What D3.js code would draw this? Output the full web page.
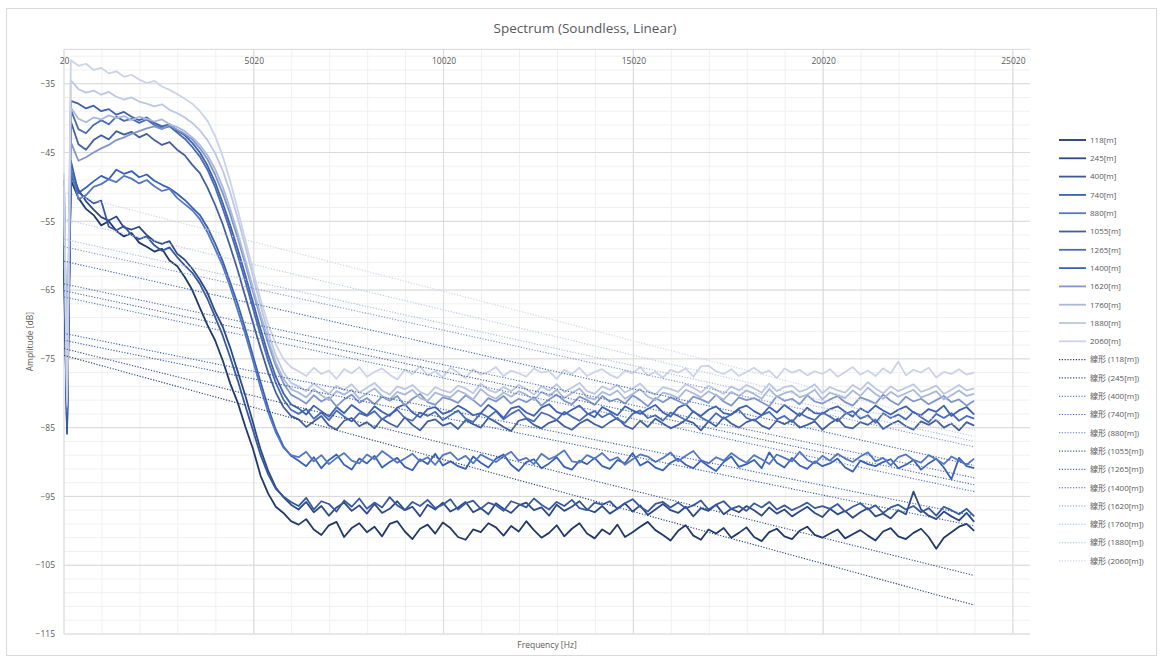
<!DOCTYPE html>
<html>
<head>
<meta charset="utf-8">
<script src="https://cdn.jsdelivr.net/npm/d3@7"></script>
<style>
  body { margin: 0; background: #fff; }
  text { font-family: "Open Sans", "Noto Sans CJK JP", sans-serif; fill: #595959; }
</style>
</head>
<body>
<div id="chart"></div>
<script>
// frequency bins [Hz]
const freqs = [20, 100].concat(d3.range(200, 24001, 200))

const seriesNames = ['118[m]', '245[m]', '400[m]', '740[m]', '880[m]', '1055[m]', '1265[m]', '1400[m]', '1620[m]', '1760[m]', '1880[m]', '2060[m]']

const s118 = [-62, -85.5,
  -49.0, -51.6, -53.2, -54.1, -55.6, -55.0, -56.4, -57.2, -56.7, -58.1,
  -58.7, -59.4, -59.0, -60.7, -61.5, -63.1, -65.0, -67.6, -70.1, -72.3,
  -75.2, -78.6, -81.4, -84.9, -88.1, -92.0, -94.6, -96.5, -97.4, -98.6,
  -99.1, -98.3, -99.8, -100.6, -99.2, -98.7, -100.9, -99.6, -98.9, -100.2,
  -99.4, -100.8, -99.0, -98.6, -100.1, -101.2, -99.7, -99.1, -100.4, -98.8,
  -99.6, -100.9, -101.3, -99.8, -100.2, -98.9, -99.5, -100.7, -99.3, -100.1,
  -98.6, -99.9, -101.0, -100.3, -99.2, -100.8, -99.7, -98.9, -100.4, -101.1,
  -99.8, -100.5, -99.1, -100.9, -100.2, -99.4, -98.7, -99.9, -100.6, -101.4,
  -100.0, -99.2, -100.7, -101.3, -99.8, -100.4, -99.6, -101.0, -100.3, -99.5,
  -100.9, -101.5, -100.2, -99.7, -100.8, -101.2, -100.0, -99.4, -100.6, -101.0,
  -100.4, -99.8, -101.1, -100.5, -99.9, -100.7, -101.4, -100.1, -99.6, -100.8,
  -101.2, -100.3, -99.7, -100.9, -102.6, -101.0, -100.2, -99.4, -99.0, -100.0]

const s245 = [-58.5, -84.8,
  -47.6, -50.4, -52.1, -53.3, -54.4, -54.9, -54.3, -55.9, -56.2, -55.8,
  -57.0, -57.9, -58.3, -57.9, -59.7, -60.6, -61.9, -63.5, -65.4, -68.1,
  -70.3, -73.4, -76.9, -80.4, -84.3, -88.2, -91.3, -93.7, -95.1, -96.2,
  -96.9, -95.8, -97.3, -96.4, -97.8, -96.6, -95.9, -97.1, -96.3, -97.5,
  -96.1, -97.4, -96.8, -95.7, -97.0, -96.5, -97.9, -96.2, -96.9, -95.9,
  -97.2, -96.6, -95.8, -97.3, -96.7, -97.6, -96.0, -96.8, -97.4, -96.3,
  -95.9, -97.0, -96.6, -97.8, -96.2, -97.1, -96.5, -95.7, -96.9, -97.3,
  -96.4, -97.5, -96.8, -96.0, -97.2, -96.3, -97.7, -96.9, -96.1, -97.0,
  -97.4, -96.5, -97.9, -96.7, -97.1, -96.2, -97.6, -96.8, -97.3, -96.4,
  -97.0, -97.8, -96.6, -97.5, -96.9, -97.9, -97.2, -96.5, -97.4, -98.0,
  -96.8, -97.6, -97.1, -98.1, -97.3, -96.7, -97.9, -97.5, -98.2, -97.0,
  -97.6, -94.3, -96.9, -97.8, -98.3, -97.2, -97.9, -98.5, -97.4, -98.7]

const s400 = [-60.2, -85.9,
  -48.3, -50.8, -51.6, -52.4, -52.0, -55.8, -56.3, -55.7, -57.0, -57.6,
  -57.2, -58.5, -59.3, -58.8, -60.2, -61.4, -62.5, -64.1, -66.3, -68.9,
  -71.6, -74.8, -78.2, -81.9, -85.4, -89.0, -91.8, -93.9, -95.0, -95.8,
  -96.4, -95.2, -96.9, -95.7, -96.1, -97.2, -95.6, -96.5, -95.3, -96.8,
  -95.9, -96.6, -95.1, -96.3, -97.0, -95.8, -96.4, -95.5, -96.7, -96.2,
  -95.4, -96.9, -96.0, -95.6, -96.8, -95.9, -96.3, -97.1, -95.7, -96.1,
  -96.6, -95.3, -96.2, -96.9, -95.8, -96.4, -95.5, -96.7, -97.0, -95.9,
  -96.2, -95.7, -96.8, -96.0, -95.4, -96.5, -97.2, -96.1, -95.8, -96.6,
  -95.9, -96.7, -96.3, -95.6, -96.9, -96.2, -95.7, -96.8, -96.4, -97.1,
  -96.0, -96.6, -95.8, -96.9, -96.3, -97.0, -96.5, -95.9, -96.7, -96.4,
  -96.8, -96.1, -97.2, -96.5, -96.0, -96.9, -96.3, -97.4, -96.6, -96.2,
  -96.9, -96.4, -97.3, -96.7, -97.8, -96.5, -97.0, -97.6, -96.8, -97.9]

const s740 = [-56.5, -83.2,
  -46.2, -50.9, -50.1, -49.2, -48.4, -48.9, -47.5, -48.1, -47.7, -48.6,
  -48.2, -49.1, -49.7, -50.2, -51.0, -51.9, -53.0, -54.1, -55.9, -58.2,
  -60.8, -63.9, -67.1, -70.7, -74.6, -78.4, -82.1, -85.3, -87.7, -89.1,
  -89.8, -90.6, -89.3, -90.9, -89.7, -88.9, -90.4, -91.1, -89.5, -90.2,
  -89.1, -90.8, -90.0, -89.4, -90.7, -91.2, -89.6, -90.3, -88.8, -90.5,
  -89.9, -90.6, -91.0, -89.2, -90.1, -90.8, -89.5, -88.9, -90.4, -91.3,
  -90.0, -89.6, -90.9, -90.2, -89.3, -90.7, -91.1, -89.8, -90.3, -89.4,
  -90.6, -91.0, -89.7, -90.2, -88.7, -90.5, -89.9, -90.8, -91.2, -90.1,
  -89.5, -90.4, -90.9, -89.8, -90.6, -91.3, -90.0, -89.2, -90.7, -90.3,
  -89.7, -90.9, -88.6, -90.1, -90.8, -89.4, -90.5, -91.0, -89.9, -90.6,
  -90.2, -89.5, -90.8, -91.4, -89.8, -90.3, -90.6, -90.0, -89.6, -90.9,
  -90.4, -89.7, -91.1, -90.2, -89.5, -90.8, -92.5, -89.4, -90.6, -90.9]

const s880 = [-54.0, -82.6,
  -47.3, -51.8, -51.2, -50.0, -49.6, -48.9, -49.3, -48.4, -48.8, -49.5,
  -49.0, -49.9, -50.6, -50.3, -51.6, -52.5, -53.4, -54.7, -56.6, -59.0,
  -61.5, -64.6, -68.0, -71.5, -75.3, -79.2, -82.8, -85.7, -87.9, -89.0,
  -89.3, -88.5, -89.9, -89.0, -90.3, -89.4, -88.7, -89.8, -90.2, -88.9,
  -89.6, -88.4, -89.2, -90.1, -89.5, -88.8, -89.9, -89.3, -90.4, -89.0,
  -88.6, -89.7, -89.1, -90.2, -88.9, -89.5, -90.0, -89.2, -88.5, -89.8,
  -89.4, -90.3, -88.8, -89.6, -89.1, -88.3, -89.9, -90.1, -89.0, -89.5,
  -88.7, -89.8, -89.3, -90.4, -89.6, -88.9, -89.2, -90.0, -89.4, -88.6,
  -89.9, -89.1, -88.4, -89.7, -90.2, -89.3, -89.8, -88.7, -89.5, -90.1,
  -89.0, -89.6, -90.3, -88.9, -89.4, -89.9, -88.5, -89.7, -90.2, -89.1,
  -89.8, -88.8, -89.5, -90.0, -89.2, -88.6, -89.9, -89.4, -90.5, -89.3,
  -88.9, -89.7, -90.1, -89.0, -89.6, -90.3, -89.2, -89.8, -90.4, -89.5]

const s1055 = [-52.0, -81.5,
  -40.5, -43.8, -44.6, -43.2, -42.5, -43.1, -41.9, -42.4, -42.0, -42.8,
  -42.3, -43.2, -43.9, -43.5, -44.6, -45.4, -46.8, -48.0, -50.1, -52.6,
  -55.4, -58.7, -62.2, -66.0, -69.8, -73.5, -77.0, -79.9, -82.0, -83.3,
  -83.8, -84.9, -84.1, -83.3, -84.7, -85.3, -84.0, -83.6, -84.8, -84.2,
  -85.1, -83.7, -84.4, -84.9, -83.5, -84.6, -85.4, -84.1, -83.8, -84.7,
  -84.3, -85.2, -83.9, -84.5, -85.0, -83.6, -84.2, -84.9, -85.5, -84.0,
  -83.7, -84.6, -85.1, -84.3, -83.9, -84.8, -85.3, -84.4, -83.8, -84.5,
  -85.0, -84.2, -83.6, -84.7, -85.2, -84.0, -84.9, -83.7, -84.4, -85.1,
  -84.6, -83.9, -84.3, -85.4, -84.1, -84.8, -83.5, -84.4, -85.0, -84.2,
  -83.8, -84.7, -85.2, -84.0, -84.5, -83.9, -85.0, -84.6, -84.1, -85.3,
  -84.4, -83.7, -84.9, -85.1, -84.2, -84.6, -83.8, -85.2, -84.5, -84.0,
  -84.8, -85.3, -84.1, -84.6, -83.9, -85.0, -84.4, -85.4, -84.2, -84.7]

const s1265 = [-50.5, -81.0,
  -38.8, -41.6, -42.2, -41.0, -40.3, -40.9, -39.8, -40.4, -40.1, -40.7,
  -40.2, -41.0, -41.5, -41.2, -42.1, -43.0, -44.2, -45.6, -47.5, -50.0,
  -53.1, -56.4, -60.0, -63.8, -67.7, -71.6, -75.3, -78.5, -80.9, -82.4,
  -83.0, -82.3, -83.7, -82.8, -83.9, -82.5, -83.4, -84.1, -82.9, -83.3,
  -82.6, -83.8, -83.1, -82.4, -83.6, -84.0, -82.8, -83.3, -82.7, -83.9,
  -83.2, -82.5, -83.7, -84.2, -82.9, -83.5, -82.6, -83.8, -83.0, -82.4,
  -83.6, -84.1, -82.8, -83.2, -83.9, -82.7, -83.4, -84.0, -83.1, -82.6,
  -83.5, -82.9, -83.8, -84.3, -83.0, -82.5, -83.6, -83.2, -84.0, -82.8,
  -83.3, -83.9, -82.6, -83.5, -84.1, -82.9, -83.7, -83.1, -82.4, -83.6,
  -84.0, -83.2, -82.7, -83.8, -83.3, -84.2, -82.9, -83.5, -83.9, -82.8,
  -83.4, -84.1, -83.0, -82.6, -83.7, -83.2, -84.3, -82.9, -83.6, -83.1,
  -83.8, -82.7, -83.5, -84.2, -83.0, -83.6, -82.9, -84.0, -83.3, -83.7]

const s1400 = [-49.0, -80.4,
  -37.5, -37.9, -38.6, -38.2, -39.0, -38.7, -39.5, -39.1, -39.8, -40.3,
  -39.9, -40.7, -41.2, -40.9, -41.8, -42.5, -43.6, -45.0, -46.9, -49.3,
  -52.3, -55.6, -59.1, -62.9, -66.8, -70.7, -74.4, -77.6, -80.0, -81.6,
  -82.2, -83.1, -81.8, -82.6, -83.4, -82.0, -82.9, -81.7, -82.5, -83.2,
  -81.9, -82.7, -83.3, -82.1, -81.6, -82.8, -83.5, -82.3, -82.0, -83.0,
  -82.6, -81.8, -82.4, -83.2, -82.9, -81.7, -82.5, -83.6, -82.2, -81.9,
  -82.8, -83.3, -82.1, -81.6, -82.7, -83.1, -82.4, -81.8, -82.9, -83.5,
  -82.0, -82.6, -83.2, -81.9, -82.5, -83.0, -82.3, -81.7, -82.8, -83.4,
  -82.1, -81.6, -82.7, -83.3, -82.4, -81.9, -82.9, -83.1, -82.2, -81.8,
  -82.6, -83.2, -82.0, -82.8, -81.7, -82.5, -83.3, -82.1, -82.9, -83.0,
  -82.3, -81.9, -82.7, -83.4, -82.2, -82.8, -81.8, -82.5, -83.1, -82.4,
  -81.9, -82.8, -83.2, -82.3, -82.7, -81.8, -83.3, -82.5, -82.0, -83.1]

const s1620 = [-53.0, -82.0,
  -43.5, -46.2, -45.7, -45.0, -44.4, -43.9, -43.2, -42.8, -42.3, -41.9,
  -41.5, -41.2, -41.6, -41.0, -41.7, -42.3, -43.1, -44.4, -46.0, -48.2,
  -50.9, -54.0, -57.5, -61.3, -65.2, -69.1, -72.8, -76.0, -78.5, -80.2,
  -80.8, -81.5, -80.3, -81.2, -80.6, -81.9, -80.9, -80.2, -81.4, -80.7,
  -81.6, -80.5, -81.1, -80.4, -81.8, -80.8, -80.1, -81.3, -81.7, -80.6,
  -80.9, -81.4, -80.3, -81.0, -81.9, -80.7, -81.2, -80.4, -81.5, -80.8,
  -81.3, -80.6, -81.8, -80.9, -80.2, -81.1, -81.6, -80.5, -81.0, -81.7,
  -80.4, -81.2, -80.8, -81.5, -80.3, -81.0, -81.9, -80.7, -81.3, -80.6,
  -81.1, -81.7, -80.5, -80.9, -81.4, -80.2, -81.2, -81.8, -80.6, -81.0,
  -80.7, -81.3, -81.9, -80.4, -81.1, -80.8, -81.6, -80.3, -81.2, -81.5,
  -80.9, -80.4, -81.3, -81.8, -80.6, -81.0, -81.5, -80.2, -81.1, -81.7,
  -80.5, -81.2, -80.8, -81.6, -81.0, -80.4, -81.3, -80.9, -81.8, -81.1]

const s1760 = [-51.2, -81.7,
  -38.5, -40.1, -40.6, -39.9, -40.2, -39.6, -40.0, -39.7, -40.3, -39.8,
  -40.1, -40.5, -40.2, -40.9, -41.3, -41.9, -42.8, -43.9, -45.4, -47.4,
  -50.0, -53.2, -56.8, -60.7, -64.7, -68.6, -72.2, -75.5, -77.9, -79.4,
  -79.9, -80.6, -79.4, -80.3, -81.0, -79.7, -80.2, -79.5, -80.8, -80.0,
  -79.3, -80.4, -80.9, -79.8, -80.2, -79.5, -80.7, -81.1, -79.9, -80.3,
  -80.6, -79.6, -80.1, -80.9, -79.4, -80.3, -80.8, -79.9, -80.5, -79.7,
  -80.2, -81.0, -79.8, -80.4, -79.5, -80.7, -80.0, -79.3, -80.6, -80.9,
  -79.8, -80.3, -79.6, -80.8, -80.1, -79.4, -80.5, -81.0, -79.9, -80.2,
  -80.7, -79.5, -80.0, -80.6, -79.7, -80.3, -80.9, -79.8, -80.4, -79.6,
  -80.1, -80.8, -79.4, -80.5, -80.0, -79.7, -80.6, -80.2, -79.5, -80.9,
  -79.9, -80.3, -80.7, -79.6, -80.4, -79.2, -80.1, -80.8, -79.8, -80.5,
  -80.0, -79.5, -80.6, -80.2, -79.7, -80.9, -80.3, -79.6, -80.4, -80.1]

const s1880 = [-49.8, -81.2,
  -34.5, -35.8, -36.3, -36.0, -36.6, -36.2, -36.9, -37.3, -37.0, -37.6,
  -37.9, -38.3, -38.0, -38.8, -39.3, -39.9, -40.7, -41.8, -43.2, -45.1,
  -47.6, -50.8, -54.6, -58.7, -63.0, -67.3, -71.2, -74.5, -76.9, -78.5,
  -79.0, -79.7, -78.6, -79.4, -80.1, -78.9, -79.5, -78.7, -79.9, -79.2,
  -78.5, -79.6, -80.2, -79.0, -79.4, -78.8, -79.8, -80.3, -79.1, -79.6,
  -79.9, -78.9, -79.3, -80.0, -78.6, -79.5, -79.9, -79.1, -79.7, -78.8,
  -79.4, -80.2, -79.0, -79.6, -78.7, -79.8, -79.2, -78.5, -79.7, -80.1,
  -79.0, -79.5, -78.8, -79.9, -79.3, -78.6, -79.7, -80.2, -79.1, -79.4,
  -79.8, -78.7, -79.2, -79.9, -78.9, -79.5, -80.1, -79.0, -79.6, -78.8,
  -79.3, -79.9, -78.6, -79.7, -79.1, -78.9, -79.8, -79.4, -78.7, -80.0,
  -79.1, -79.6, -79.9, -78.8, -79.5, -78.4, -79.3, -80.0, -79.0, -79.7,
  -79.2, -78.7, -79.8, -79.4, -78.9, -80.1, -79.5, -78.8, -79.6, -79.3]

const s2060 = [-48.0, -80.5,
  -31.6, -32.4, -32.1, -33.0, -32.7, -33.5, -33.2, -34.0, -33.7, -34.4,
  -34.9, -34.6, -35.4, -35.9, -36.5, -37.2, -37.9, -39.0, -40.4, -42.6,
  -45.5, -49.2, -53.4, -57.8, -62.2, -66.4, -70.0, -72.9, -75.0, -76.2,
  -76.8, -77.5, -76.3, -77.2, -76.7, -77.9, -76.5, -77.1, -76.2, -77.6,
  -76.9, -76.4, -77.3, -78.0, -76.6, -77.2, -76.1, -77.4, -76.8, -77.7,
  -76.3, -77.0, -77.8, -76.5, -77.3, -76.9, -76.2, -77.5, -76.7, -77.1,
  -77.6, -76.4, -77.0, -76.8, -77.9, -76.6, -77.2, -76.3, -77.5, -76.9,
  -76.5, -77.3, -77.8, -76.7, -77.1, -76.2, -77.4, -76.9, -77.7, -76.6,
  -77.0, -76.4, -77.6, -76.1, -76.0, -76.8, -77.2, -76.5, -77.5, -76.9,
  -76.3, -77.1, -76.7, -77.8, -76.4, -77.0, -76.6, -77.4, -76.8, -77.2,
  -76.5, -77.6, -76.9, -76.2, -77.3, -76.7, -77.5, -76.4, -77.1, -75.4,
  -77.4, -76.6, -77.0, -76.3, -77.7, -76.9, -77.2, -76.5, -77.3, -77.0]

const seriesValues = [s118, s245, s400, s740, s880, s1055, s1265, s1400, s1620, s1760, s1880, s2060]

// linear trendlines (線形), value at 20 Hz and at 24000 Hz
const trendFreqs = [20, 24000]
const trendStart = [-74.5, -73.5, -72.3, -71.3, -66.0, -65.1, -64.1, -60.8, -58.7, -57.6, -54.7, -50.8]
const trendEnd = [-110.8, -106.5, -99.3, -97.8, -94.3, -93.3, -92.3, -90.5, -87.8, -87.0, -86.3, -85.3]

const xTicks = [20, 5020, 10020, 15020, 20020, 25020]
const yTicks = [-115, -105, -95, -85, -75, -65, -55, -45, -35]

const colors = ['#21396a', '#2d4a86', '#38599f', '#3761b6', '#5577c0', '#43609c', '#4a6cb5', '#3e62b2', '#8096c8', '#a9b8dc', '#bcc7e3', '#ccd3e8']

var W = 1162, H = 657
var margin = {top: 49.3, right: 132, bottom: 23, left: 64}
var plotW = W - margin.left - margin.right
var plotH = H - margin.top - margin.bottom

var svg = d3.select('#chart').append('svg').attr('width', W).attr('height', H)

// chart border
svg.append('rect').attr('x', 6.5).attr('y', 8.5).attr('width', 1150).attr('height', 647)
  .attr('fill', '#fff').attr('stroke', '#d9d9d9')

var x = d3.scaleLinear().domain([20, 25470]).range([margin.left, margin.left + plotW])
var y = d3.scaleLinear().domain([-115, -30]).range([margin.top + plotH, margin.top])

var grid = svg.append('g')
// minor gridlines
grid.selectAll('.vminor').data(d3.range(20, 25470, 1000)).enter().append('line')
  .attr('x1', d => x(d)).attr('x2', d => x(d)).attr('y1', y(-115)).attr('y2', y(-30))
  .attr('stroke', '#f0f0f0')
grid.selectAll('.hminor').data(d3.range(-115, -30, 2)).enter().append('line')
  .attr('x1', x(20)).attr('x2', x(25470)).attr('y1', d => y(d)).attr('y2', d => y(d))
  .attr('stroke', '#f0f0f0')
// major gridlines
grid.selectAll('.vmajor').data(xTicks).enter().append('line')
  .attr('x1', d => x(d)).attr('x2', d => x(d)).attr('y1', y(-115)).attr('y2', y(-30))
  .attr('stroke', '#d9d9d9')
grid.selectAll('.hmajor').data(yTicks).enter().append('line')
  .attr('x1', x(20)).attr('x2', x(25470)).attr('y1', d => y(d)).attr('y2', d => y(d))
  .attr('stroke', '#d9d9d9')
grid.append('line').attr('x1', x(20)).attr('x2', x(25470)).attr('y1', y(-30)).attr('y2', y(-30))
  .attr('stroke', '#d9d9d9')

// axes (labels only)
var xAxis = d3.axisTop(x).tickValues(xTicks).tickFormat(d3.format('d')).tickSize(0).tickPadding(0)
svg.append('g').attr('transform', `translate(0,${y(-30) + 15})`).call(xAxis)
  .call(g => g.select('.domain').remove())
  .selectAll('text').attr('font-size', 8.5).attr('font-family', null).attr('fill', '#7f7f7f')

var yAxis = d3.axisLeft(y).tickValues(yTicks).tickSize(0).tickPadding(9)
svg.append('g').attr('transform', `translate(${x(20)},0)`).call(yAxis)
  .call(g => g.select('.domain').remove())
  .selectAll('text').attr('font-size', 8.5).attr('font-family', null).attr('fill', '#7f7f7f')

// series
var line = d3.line().x((d, i) => x(freqs[i])).y(d => y(d))
svg.append('g').selectAll('path').data(seriesValues).enter().append('path')
  .attr('d', d => line(d))
  .attr('fill', 'none')
  .attr('stroke', (d, i) => colors[i])
  .attr('stroke-width', 1.8)
  .attr('stroke-linejoin', 'round')

// trendlines
var tline = d3.line().x((d, i) => x(trendFreqs[i])).y(d => y(d))
svg.append('g').selectAll('path').data(trendStart.map((s, i) => [s, trendEnd[i]])).enter().append('path')
  .attr('d', d => tline(d))
  .attr('fill', 'none')
  .attr('stroke', (d, i) => colors[i])
  .attr('stroke-width', 1.1)
  .attr('stroke-dasharray', '1.2,1.6')

// titles
svg.append('text').attr('x', 585).attr('y', 33).attr('text-anchor', 'middle')
  .attr('font-size', 13.5).text('Spectrum (Soundless, Linear)')
svg.append('text').attr('x', (x(20) + x(25470)) / 2).attr('y', 648).attr('text-anchor', 'middle')
  .attr('font-size', 8.5).text('Frequency [Hz]')
svg.append('text').attr('transform', `translate(33,${(y(-115) + y(-30)) / 2}) rotate(-90)`)
  .attr('text-anchor', 'middle').attr('font-size', 8.5).text('Amplitude [dB]')

// legend
var legendLabels = seriesNames.concat(seriesNames.map(n => '線形 (' + n + ')'))
var legend = svg.append('g').selectAll('g').data(legendLabels).enter().append('g')
  .attr('transform', (d, i) => `translate(1059,${140 + i * 18.3})`)
legend.append('line').attr('x1', 0).attr('x2', 27).attr('y1', 0).attr('y2', 0)
  .attr('stroke', (d, i) => colors[i % 12])
  .attr('stroke-width', (d, i) => i < 12 ? 1.8 : 1.1)
  .attr('stroke-dasharray', (d, i) => i < 12 ? null : '1.2,1.6')
legend.append('text').attr('x', 31).attr('y', 0).attr('dy', '0.35em')
  .attr('font-size', 8).text(d => d)
</script>
</body>
</html>
